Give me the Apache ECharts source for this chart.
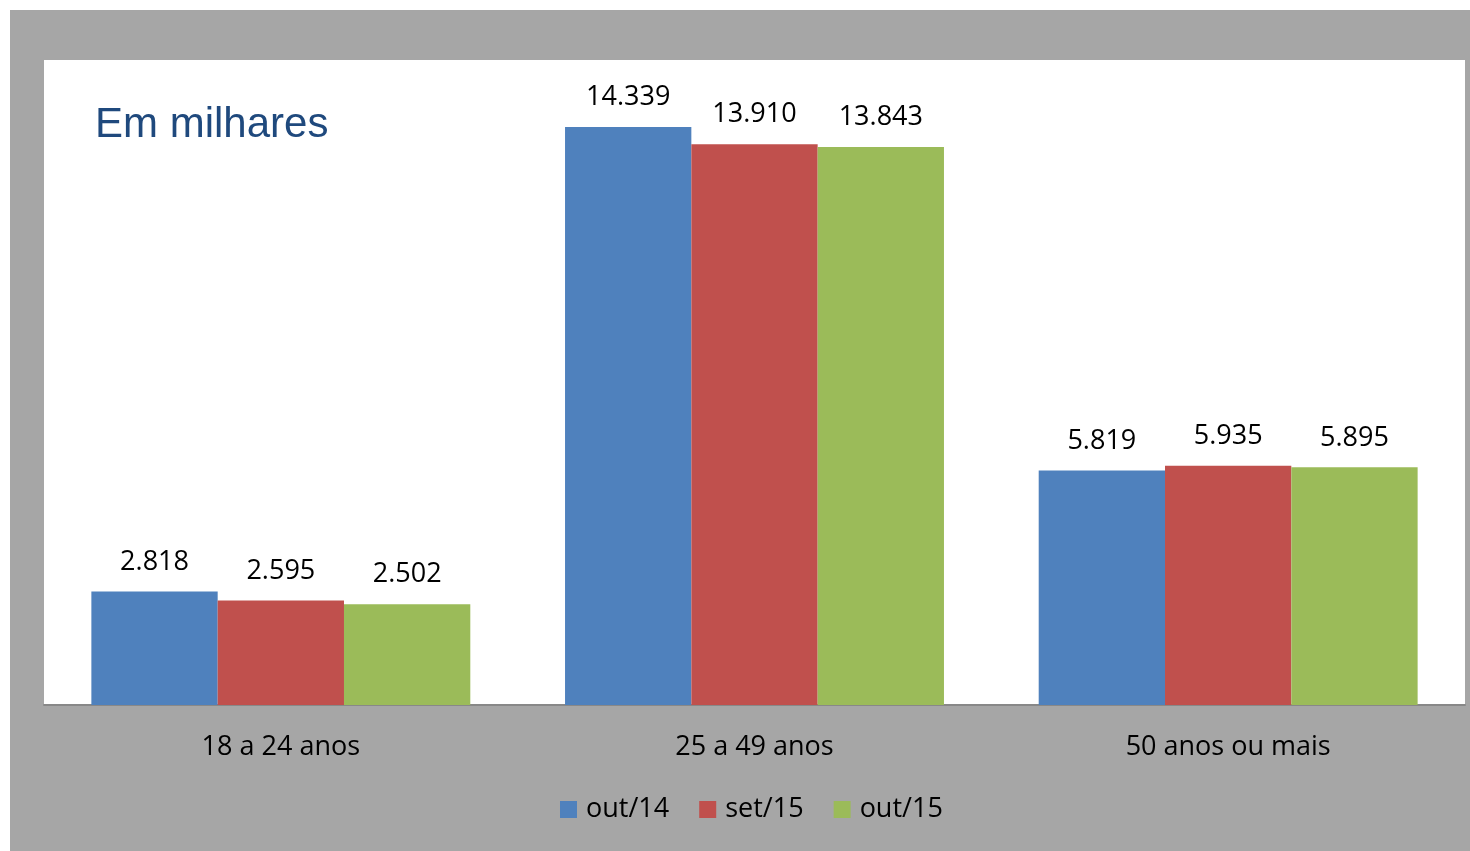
<!DOCTYPE html>
<html><head><meta charset="utf-8">
<script src="https://cdn.jsdelivr.net/npm/echarts@6/dist/echarts.min.js"></script>
<style>body{margin:0;background:#fff}#c{position:absolute;left:10px;top:10px;width:1460px;height:841px}</style>
</head><body><div id="c"></div>
<script>
var categories = ['18 a 24 anos', '25 a 49 anos', '50 anos ou mais'];
var out14 = [2818, 14339, 5819];
var set15 = [2595, 13910, 5935];
var out15 = [2502, 13843, 5895];

function fmt(v){ return String(v).replace(/\B(?=(\d{3})+(?!\d))/g, '.'); }
var font = '"Open Sans", sans-serif';
function s(name, data, color){
  return {name:name, type:'bar', data:data, barGap:0, barCategoryGap:'20%',
    itemStyle:{color:color},
    label:{show:true, position:'top', distance:16, fontSize:27, fontFamily:font, color:'#000',
      formatter:function(p){return fmt(p.value);}}};
}
var chart = echarts.init(document.getElementById('c'));
chart.setOption({
  backgroundColor:'#a6a6a6',
  animation:false,
  title:{text:'Em milhares', left:80, top:89, textStyle:{fontFamily:'"Liberation Sans", Arial', fontSize:42, fontWeight:'normal', color:'#1f497d'}},
  grid:{left:34, right:5, top:50, bottom:146, show:true, backgroundColor:'#fff', borderWidth:0},
  legend:{bottom:23, left:545, itemWidth:17, itemHeight:17, itemGap:30, icon:'rect',
    textStyle:{fontSize:27, fontFamily:font, color:'#000', padding:[0,0,0,4]}},
  xAxis:{type:'category', data:categories, axisTick:{show:false},
    axisLine:{lineStyle:{color:'#888', width:2}},
    axisLabel:{fontSize:27, fontFamily:font, color:'#000', margin:29}},
  yAxis:{type:'value', min:0, max:16000, show:false, splitLine:{show:false}},
  series:[s('out/14', out14, '#4f81bd'), s('set/15', set15, '#c0504d'), s('out/15', out15, '#9bbb59')]
});
</script></body></html>
